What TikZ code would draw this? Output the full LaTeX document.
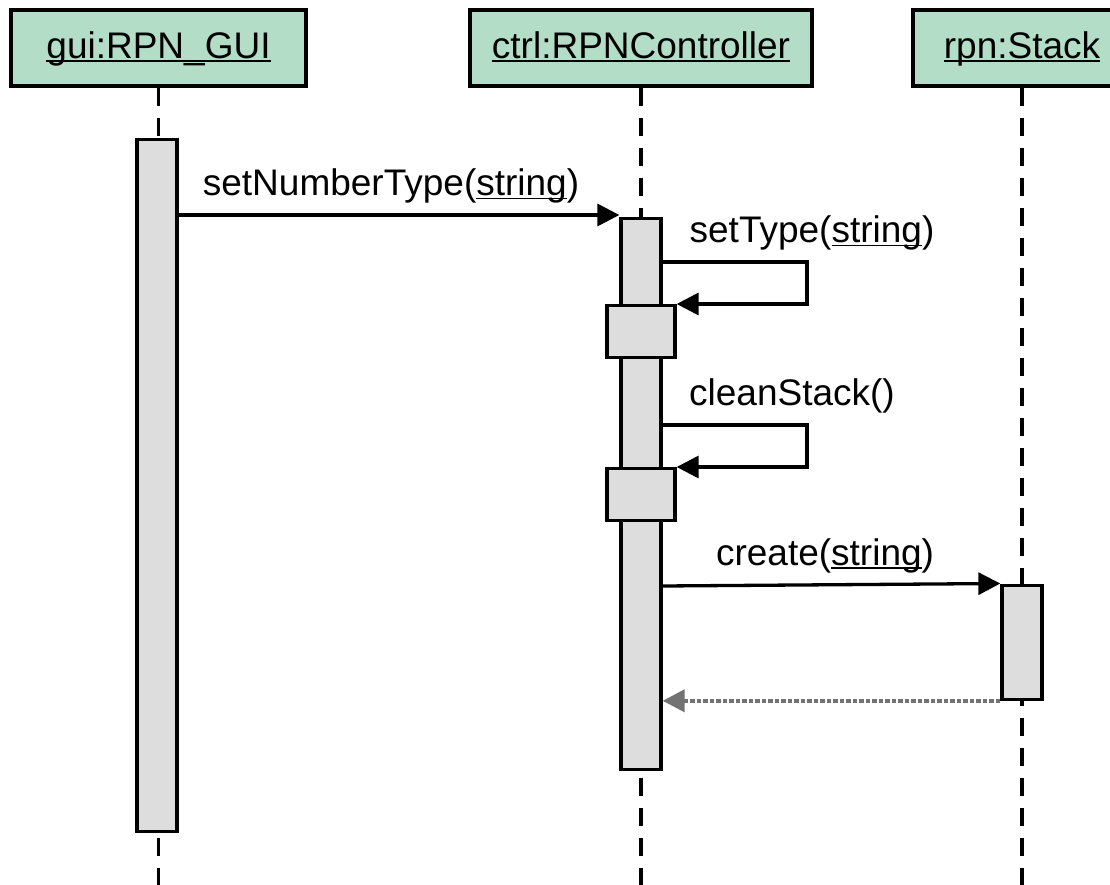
\documentclass[tikz,border=0pt]{standalone}
\usepackage{fontspec}
\setmainfont{Liberation Sans}
\usetikzlibrary{arrows.meta}
\definecolor{hdrfill}{RGB}{180,221,200}
\definecolor{actfill}{RGB}{221,221,221}
\definecolor{retcol}{RGB}{115,115,115}
\newcommand{\myul}[1]{\setbox0\hbox{#1}\rlap{\rule[-3.5pt]{\wd0}{1.8pt}}\box0}
\begin{document}
\begin{tikzpicture}[x=1pt,y=-1pt,
  hdr/.style={draw, line width=3.3pt, fill=hdrfill, inner sep=0pt,
    text height=48.5pt, text depth=27.5pt, font=\fontsize{37}{41}\selectfont},
  life/.style={line width=3.3pt, dash pattern=on 18pt off 12pt},
  act/.style={draw, line width=3.3pt, fill=actfill, inner sep=0pt},
  msg/.style={line width=3.3pt, -{Triangle[length=22pt,width=22pt]}, line join=miter},
  ret/.style={line width=4pt, retcol, dash pattern=on 4.5pt off 2pt,
    -{Triangle[length=22pt,width=22pt]}},
  lbl/.style={inner sep=0pt, anchor=base, font=\fontsize{37}{41}\selectfont}]
\useasboundingbox (0,0) rectangle (1110,885);
\clip (0,0) rectangle (1110,885);
\fill[white] (0,0) rectangle (1110,885);

% headers
\node[hdr, minimum width=295pt] (hgui) at (158.5,8.5) [anchor=north] {\myul{gui:RPN\_GUI}};
\node[hdr, minimum width=342pt] (hctrl) at (641,8.5) [anchor=north] {\myul{ctrl:RPNController}};
\node[hdr, minimum width=218pt] (hstack) at (1022,8.5) [anchor=north] {\myul{rpn:Stack}};

\coordinate (bot) at (0,890);
\draw[life] (hgui.south) -- (hgui.south |- bot);
\draw[life] (hctrl.south) -- (hctrl.south |- bot);
\draw[life] (hstack.south) -- (hstack.south |- bot);

% activations
\node[act, minimum width=40pt, minimum height=692pt, anchor=north] (agui) at (157,138) {};
\node[act, minimum width=40pt, minimum height=551pt, anchor=north] (actrl) at (641,217) {};
\node[act, minimum width=68pt, minimum height=52pt, anchor=north] (n1) at (641,304) {};
\node[act, minimum width=68pt, minimum height=52pt, anchor=north] (n2) at (641,467) {};
\node[act, minimum width=40pt, minimum height=114pt, anchor=north] (astack) at (1022,583.5) {};

% message rows
\coordinate (y1) at (0,215);
\coordinate (y2) at (0,262);
\coordinate (y3) at (0,425);
\coordinate (y4) at (0,586);
\coordinate (rx) at (807,0);

\draw[msg] (agui.east |- y1) -- (actrl.west |- y1);
\node[lbl] (l1) at (391,196) {setNumberType(\myul{string})};

\draw[msg] (actrl.east |- y2) -| (rx |- n1.north east) -- (n1.north east);
\node[lbl] (l2) at (812,243) {setType(\myul{string})};

\draw[msg] (actrl.east |- y3) -| (rx |- n2.north east) -- (n2.north east);
\node[lbl] (l3) at (792,405) {cleanStack()};

\draw[msg] (actrl.east |- y4) -- (astack.north west);
\node[lbl] (l4) at (825,565) {create(\myul{string})};

\draw[ret] (astack.south west) -- (actrl.east |- astack.south west);
\end{tikzpicture}
\end{document}
